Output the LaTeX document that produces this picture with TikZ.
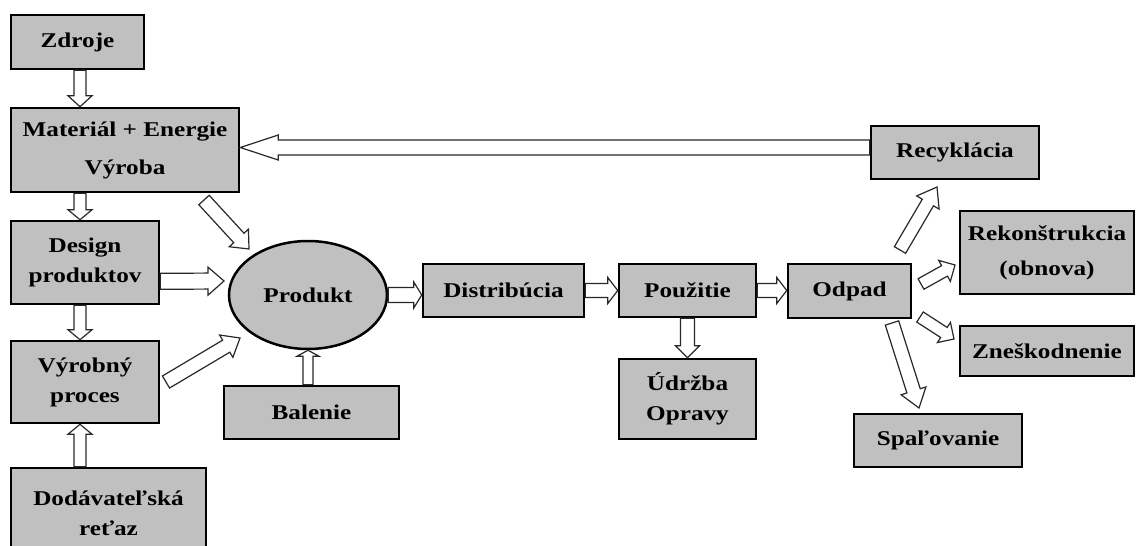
\documentclass[tikz,border=0pt]{standalone}
\usepackage{fontspec}
\setmainfont[FakeStretch=1.2]{Liberation Serif}
\usetikzlibrary{calc,shapes.geometric}
\definecolor{boxgray}{RGB}{192,192,192}
\definecolor{arrline}{RGB}{40,40,40}
\tikzset{
  box/.style={draw=black, line width=2.5pt, fill=boxgray, inner sep=0pt, align=center,
    font=\bfseries\fontsize{21}{30}\selectfont},
  arr/.style={draw=arrline, line width=1.2pt, fill=white, line join=miter},
}
% block arrow: start, end, shaft half width, head half width, head length
\newcommand{\barrow}[5]{%
  \coordinate (ba-s) at #1;
  \coordinate (ba-e) at #2;
  \coordinate (ba-h) at ($(ba-e)!#5!(ba-s)$);
  \path[arr] ($(ba-s)!#3!90:(ba-e)$) -- ($(ba-h)!#3!90:(ba-e)$) -- ($(ba-h)!#4!90:(ba-e)$)
    -- (ba-e) -- ($(ba-h)!#4!-90:(ba-e)$) -- ($(ba-h)!#3!-90:(ba-e)$) -- ($(ba-s)!#3!-90:(ba-e)$) -- cycle;
}
\begin{document}
\begin{tikzpicture}[x=1pt,y=-1pt]
\useasboundingbox (0,0) rectangle (1138,546);
\clip (0,0) rectangle (1138,546);
\fill[white] (0,0) rectangle (1138,546);

% nodes
\node[box, minimum width=133pt, minimum height=54pt] (zdroje) at (77.5,42) {Zdroje};
\node[box, minimum width=228pt, minimum height=84pt] (mat) at (125,150) {Materiál + Energie\\[8pt]Výroba};
\node[box, minimum width=148pt, minimum height=83pt] (design) at (85,262.5) {Design\\produktov};
\node[box, minimum width=148pt, minimum height=82pt] (vyrob) at (85,382) {Výrobný\\proces};
\node[box, minimum width=195pt, minimum height=91pt] (dodav) at (108.5,513.5) {Dodávateľská\\reťaz};
\node[box, ellipse, minimum width=158pt, minimum height=108pt] (prod) at (308,295) {Produkt};
\node[box, minimum width=175pt, minimum height=53pt] (bal) at (311.5,412.5) {Balenie};
\node[box, minimum width=161pt, minimum height=53pt] (distr) at (503.5,290.5) {Distribúcia};
\node[box, minimum width=137pt, minimum height=53pt] (pouz) at (687.5,290.5) {Použitie};
\node[box, minimum width=137pt, minimum height=80pt] (udrz) at (687.5,399) {Údržba\\Opravy};
\node[box, minimum width=123pt, minimum height=54pt] (odpad) at (849.5,291) {Odpad};
\node[box, minimum width=168pt, minimum height=53pt] (recyk) at (955,152.5) {Recyklácia};
\node[box, minimum width=174pt, minimum height=83pt] (rekon) at (1047,252.5) {Rekonštrukcia\\[5pt](obnova)};
\node[box, minimum width=174pt, minimum height=50pt] (znes) at (1047,351) {Zneškodnenie};
\node[box, minimum width=168pt, minimum height=53pt] (spal) at (938,440.5) {Spaľovanie};

% helper coordinates
\coordinate (lx) at (80,0);
\coordinate (r1) at ($(recyk.north west)!0.41!(recyk.south west)$);
\coordinate (d1) at ($(design.south east)!0.28!(design.north east)$);
\coordinate (d2) at (224,281);
\coordinate (m1) at (204,200);
\coordinate (m2) at (249,249);
\coordinate (v1) at (166,382);
\coordinate (v2) at (240,338);
\coordinate (o1) at (900,250);
\coordinate (o2) at (937,187);
\coordinate (o3) at (921,284);
\coordinate (o4) at (955,265);
\coordinate (o5) at (920,317);
\coordinate (o6) at (954,339);
\coordinate (o7) at (892,323);
\coordinate (o8) at (919,408);

% connectors
\barrow{(lx |- zdroje.south)}{(lx |- mat.north)}{6pt}{12pt}{11pt}
\barrow{(lx |- mat.south)}{(lx |- design.north)}{6pt}{12pt}{10pt}
\barrow{(lx |- design.south)}{(lx |- vyrob.north)}{6pt}{12pt}{10pt}
\barrow{(lx |- dodav.north)}{(lx |- vyrob.south)}{6pt}{12pt}{10pt}
\barrow{(r1)}{(r1 -| mat.east)}{7.5pt}{12.5pt}{38pt}
\barrow{(m1)}{(m2)}{7pt}{13pt}{15pt}
\barrow{(d1)}{(d2)}{8pt}{14pt}{16pt}
\barrow{(v1)}{(v2)}{7pt}{13pt}{16pt}
\barrow{(prod.south |- bal.north)}{(prod.south)}{5pt}{11pt}{6pt}
\barrow{(prod.east)}{(prod.east -| distr.west)}{7.5pt}{13pt}{8pt}
\barrow{(distr.east)}{(pouz.west)}{7pt}{13pt}{10pt}
\barrow{(pouz.east)}{(pouz.east -| odpad.west)}{7pt}{13pt}{10pt}
\barrow{(pouz.south)}{(udrz.north)}{7pt}{12pt}{12pt}
\barrow{(o1)}{(o2)}{6.5pt}{13pt}{18pt}
\barrow{(o3)}{(o4)}{6pt}{12pt}{12pt}
\barrow{(o5)}{(o6)}{6pt}{12pt}{12pt}
\barrow{(o7)}{(o8)}{7pt}{13pt}{18pt}
\end{tikzpicture}
\end{document}
